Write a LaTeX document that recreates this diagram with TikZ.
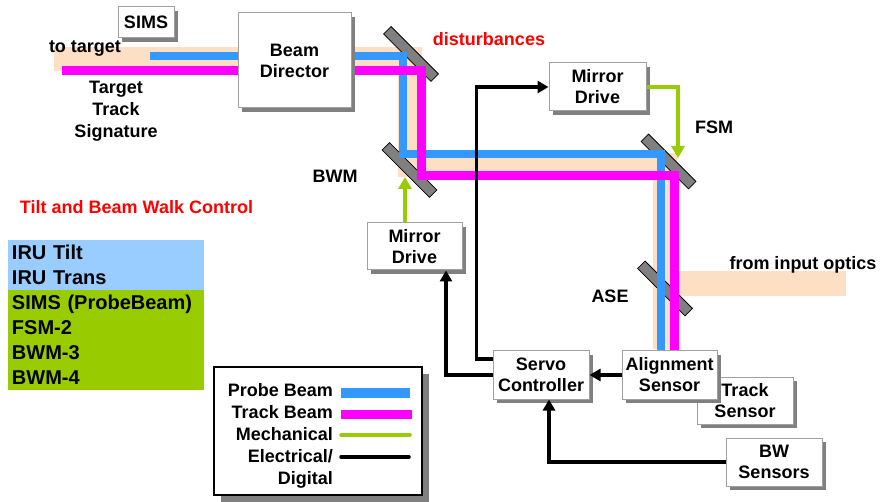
\documentclass[tikz,border=0pt]{standalone}
\usepackage{fontspec}
\setmainfont{Liberation Sans}
\usepackage{xcolor}
\usepackage{tikz}
\usetikzlibrary{positioning,arrows.meta,shadows}

\definecolor{probeblue}{RGB}{51,153,255}
\definecolor{trackpink}{RGB}{255,0,255}
\definecolor{mechgreen}{RGB}{153,204,0}
\definecolor{beampeach}{RGB}{253,224,196}
\definecolor{irublue}{RGB}{153,204,255}
\definecolor{mirrorgray}{RGB}{128,128,128}
\definecolor{boxgray}{RGB}{160,160,160}

\begin{document}
\begin{tikzpicture}[x=1pt, y=-1pt,
  txt/.style={font=\fontsize{18}{21}\selectfont\bfseries, inner sep=0pt},
  blk/.style={txt, align=center, draw=boxgray, line width=1pt, fill=white,
    drop shadow={shadow xshift=4pt, shadow yshift=-4pt, fill=mirrorgray, opacity=1}},
  mirror/.style={draw, line width=0.8pt, fill=mirrorgray, minimum width=67pt,
    minimum height=10.5pt, inner sep=0pt, rotate=-45},
  probe/.style={probeblue, line width=8.5pt},
  track/.style={trackpink, line width=9pt},
  peach/.style={beampeach, line width=24pt},
  mech/.style={mechgreen, line width=4.5pt, -{Triangle[length=12pt, width=13pt]}},
  elec/.style={black, line width=3.5pt, -{Triangle[length=11pt, width=12pt]}},
  list/.style={font=\fontsize{20}{25}\selectfont\bfseries, align=left, inner sep=0pt,
    text width=188pt, minimum width=196pt}]
\useasboundingbox (0,0) rectangle (883,502);

% Beam footprint
\draw[peach] (54,59.5) -- (410,59.5) -- (410,165) -- (665,165) -- (665,349);
\draw[peach, line width=25pt] (665,283.5) -- (846,283.5);

% Mirrors
\node[mirror] (dm) at (411,54) {};
\node[mirror] (bwm) at (409.5,170) {};
\node[mirror] (fsm) at (668.5,161.5) {};
\node[mirror] (ase) at (665,288.5) {};

% Probe and track beams
\draw[probe] (150,56) -- (403,56) -- (403,154) -- (661,154) -- (661,351);
\draw[track] (62,71) -- (421,71) -- (421,176) -- (674,176) -- (674,353);

% Blocks
\node[blk, minimum width=56pt, minimum height=31pt] (sims) at (146,22.5) {SIMS};
\node[blk, minimum width=113pt, minimum height=95pt] (bd) at (294.5,60.5) {Beam\\Director};
\node[blk, minimum width=97pt, minimum height=48pt] (mdtop) at (597.5,87) {Mirror\\Drive};
\node[blk, minimum width=95pt, minimum height=47pt] (mdlow) at (414.5,246.5) {Mirror\\Drive};
\node[blk, minimum width=96pt, minimum height=48pt] (servo) at (541,375) {Servo\\Controller};
\node[blk, minimum width=96pt, minimum height=47pt] (tsens) at (745,400.5) {Track\\Sensor};
\node[blk, minimum width=95pt, minimum height=48pt] (asens) at (669.5,375) {Alignment\\Sensor};
\node[blk, minimum width=96pt, minimum height=48pt] (bws) at (774,462) {BW\\Sensors};

% Mechanical links
\coordinate (fsmtip) at (678,158);
\coordinate (bwmtip) at (405,177);
\draw[mech] (mdtop.east) -| (fsmtip);
\draw[mech] ([xshift=-9.5pt]mdlow.north) -- (bwmtip);

% Electrical links
\draw[elec] ([yshift=16pt]servo.west) -- ++(-16,0) |- (mdtop.west);
\draw[elec] (servo.west) -| ([xshift=31.5pt]mdlow.south);
\draw[elec] (asens.west) -- (servo.east);
\draw[elec] (bws.west) -| ([xshift=8pt]servo.south);

% Labels
\node[txt, anchor=base] (totarget) at (85,53) {to target};
\node[txt, align=center, font=\fontsize{18}{22}\selectfont\bfseries] (tts) at (116,111) {Target\\Track\\Signature};
\node[txt, anchor=base, red] (dist) at (489,46) {disturbances};
\node[txt, anchor=base] (fsmlbl) at (714,134) {FSM};
\node[txt, anchor=base] (bwmlbl) at (335,183) {BWM};
\node[txt, anchor=base] (aselbl) at (610,303) {ASE};
\node[txt, anchor=base] (inlbl) at (803,270) {from input optics};
\node[txt, anchor=base, red] (tiltlbl) at (136.5,214) {Tilt and Beam Walk Control};

% Control list
\node[list, fill=irublue, minimum height=50pt] (iru) at (106,265) {IRU Tilt\\IRU Trans};
\node[list, fill=mechgreen, minimum height=100pt] (ctl) at (106,340) {SIMS (ProbeBeam)\\FSM-2\\BWM-3\\BWM-4};

% Legend
\node[draw, line width=1.2pt, fill=white, minimum width=208pt, minimum height=128pt,
  drop shadow={shadow xshift=7pt, shadow yshift=-7pt, fill=mirrorgray, opacity=1}] (legend) at (318,431) {};
\node[txt, align=right, anchor=north east, font=\fontsize{18}{22}\selectfont\bfseries] (legtext) at (333,383)
  {Probe Beam\\Track Beam\\Mechanical\\Electrical/\\Digital};
\draw[probe, line width=10pt] (341,393) -- (410,393);
\draw[track] (341,414.5) -- (412,414.5);
\draw[mechgreen, line width=3.5pt, line cap=round] (341,435) -- (410,435);
\draw[black, line width=3.5pt, line cap=round] (341,457) -- (409,457);
\end{tikzpicture}
\end{document}
